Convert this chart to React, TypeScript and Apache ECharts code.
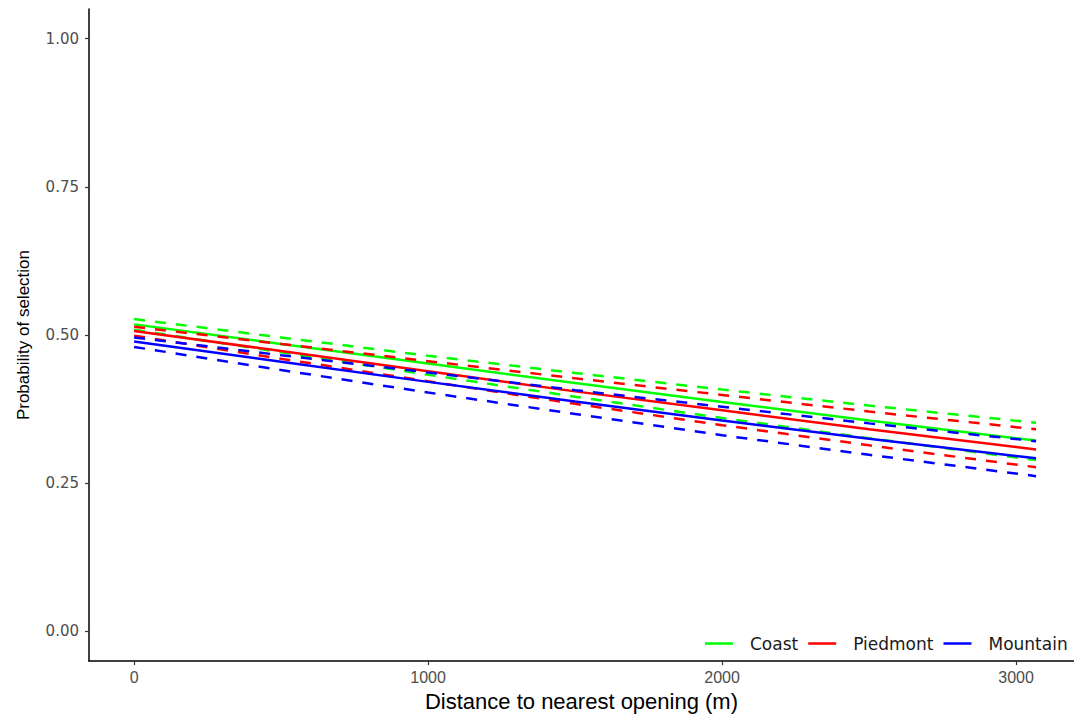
import React, { useEffect, useRef } from "react";
import * as echarts from "echarts";

const distance = [0, 500, 1000, 1500, 2000, 2500, 3068];
const coastFit = [0.518, 0.485, 0.452, 0.419, 0.387, 0.356, 0.322];
const coastUpper = [0.527, 0.496, 0.465, 0.436, 0.408, 0.381, 0.352];
const coastLower = [0.509, 0.471, 0.433, 0.396, 0.36, 0.326, 0.289];
const piedmontFit = [0.507, 0.473, 0.439, 0.405, 0.373, 0.341, 0.307];
const piedmontUpper = [0.514, 0.485, 0.456, 0.427, 0.399, 0.371, 0.341];
const piedmontLower = [0.499, 0.46, 0.422, 0.384, 0.348, 0.314, 0.277];
const mountainFit = [0.489, 0.455, 0.421, 0.388, 0.356, 0.325, 0.292];
const mountainUpper = [0.496, 0.466, 0.437, 0.407, 0.379, 0.351, 0.321];
const mountainLower = [0.48, 0.441, 0.403, 0.367, 0.331, 0.298, 0.262];

const xTicks = [0, 1000, 2000, 3000];
const yTicks = [0, 0.25, 0.5, 0.75, 1.0];
const regions = ["Coast", "Piedmont", "Mountain"];
const colors = ["#00ff00", "#ff0000", "#0000ff"];

const FONT = "Liberation Sans, Arial, sans-serif";
const WIDE = "DejaVu Sans, Liberation Sans, sans-serif";

export default function App() {
  const ref = useRef<HTMLDivElement>(null);
  useEffect(() => {
    if (!ref.current) return;
    const chart = echarts.init(ref.current, null, { renderer: "svg" });
    const groups = [
      [coastFit, coastUpper, coastLower],
      [piedmontFit, piedmontUpper, piedmontLower],
      [mountainFit, mountainUpper, mountainLower],
    ];
    const series: any[] = [];
    groups.forEach((g, i) => {
      const [fit, up, lo] = g;
      const mk = (arr: number[], name: string, dashed: boolean) => ({
        type: "line",
        name,
        data: distance.map((d, k) => [d, arr[k]]),
        symbol: "none",
        showSymbol: false,
        smooth: false,
        silent: true,
        lineStyle: {
          color: colors[i],
          width: 2.5,
          type: dashed ? [11, 10] : "solid",
        },
        itemStyle: { color: colors[i] },
      });
      series.push(mk(up, regions[i] + " upper", true));
      series.push(mk(lo, regions[i] + " lower", true));
      series.push(mk(fit, regions[i], false));
    });
    chart.setOption({
      animation: false,
      backgroundColor: "#ffffff",
      textStyle: { fontFamily: FONT },
      grid: { left: 89, right: 0, top: 9, bottom: 54, containLabel: false },
      legend: {
        data: regions,
        left: 700,
        top: 630,
        width: 700,
        orient: "horizontal",
        icon: "rect",
        itemWidth: 28,
        itemHeight: 2.5,
        itemGap: 10,
        textStyle: {
          fontFamily: WIDE,
          fontSize: 17,
          color: "#1a1a1a",
          padding: [0, 0, 0, 12],
        },
      },
      xAxis: {
        type: "value",
        min: -153.4,
        max: 3197,
        name: "Distance to nearest opening (m)",
        nameLocation: "middle",
        nameGap: 38,
        nameTextStyle: {
          fontFamily: FONT,
          fontSize: 22,
          color: "#000000",
          verticalAlign: "middle",
        },
        splitLine: { show: false },
        axisLine: { show: true, onZero: false, lineStyle: { color: "#000000", width: 1.5 } },
        axisTick: {
          show: true,
          length: 4,
          customValues: xTicks,
          lineStyle: { color: "#333333", width: 1.2 },
        },
        axisLabel: {
          customValues: xTicks,
          formatter: (v: number) => String(v),
          fontFamily: FONT,
          fontSize: 16,
          color: "#4d4d4d",
          margin: 8,
        },
      },
      yAxis: {
        type: "value",
        min: -0.05,
        max: 1.05,
        name: "Probability of selection",
        nameLocation: "middle",
        nameGap: 66,
        nameRotate: 90,
        nameTextStyle: {
          fontFamily: FONT,
          fontSize: 17,
          color: "#000000",
          verticalAlign: "middle",
        },
        splitLine: { show: false },
        axisLine: { show: true, onZero: false, lineStyle: { color: "#000000", width: 1.5 } },
        axisTick: {
          show: true,
          length: 4,
          customValues: yTicks,
          lineStyle: { color: "#333333", width: 1.2 },
        },
        axisLabel: {
          customValues: yTicks,
          formatter: (v: number) => v.toFixed(2),
          fontFamily: WIDE,
          fontSize: 15,
          color: "#4d4d4d",
          margin: 10,
        },
      },
      series,
    });
    return () => chart.dispose();
  }, []);
  return (
    <div
      ref={ref}
      style={{ position: "fixed", left: 0, top: 0, width: 1074, height: 717, background: "#fff" }}
    />
  );
}
